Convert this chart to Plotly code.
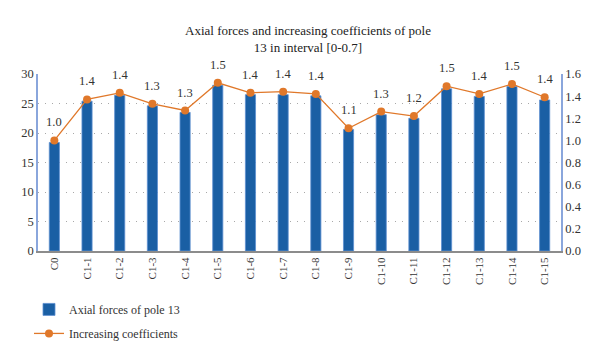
import plotly.graph_objects as go

categories = ["C0", "C1-1", "C1-2", "C1-3", "C1-4", "C1-5", "C1-6", "C1-7", "C1-8",
              "C1-9", "C1-10", "C1-11", "C1-12", "C1-13", "C1-14", "C1-15"]
axial_forces = [18.4, 25.4, 26.4, 24.6, 23.5, 28.1, 26.5, 26.5, 26.3,
                20.6, 23.1, 22.5, 27.5, 26.2, 27.9, 25.6]
coefficients = [1.00, 1.37, 1.43, 1.33, 1.27, 1.52, 1.43, 1.44, 1.42,
                1.11, 1.26, 1.22, 1.49, 1.42, 1.51, 1.39]
left_ticks = [0, 5, 10, 15, 20, 25, 30]
right_ticks = [0.0, 0.2, 0.4, 0.6, 0.8, 1.0, 1.2, 1.4, 1.6]

FONT = "Liberation Serif"
BAR = "#1a5fa4"
ORANGE = "#e0782a"
TXT = "#333333"

fig = go.Figure()
fig.add_trace(go.Bar(
    x=categories, y=axial_forces, name="Axial forces of pole 13",
    marker=dict(color=BAR, line=dict(color="#5d8fd0", width=0.8)),
    yaxis="y", legendgroup="a",
))
fig.add_trace(go.Scatter(
    x=categories, y=coefficients, name="Increasing coefficients",
    mode="lines+markers", yaxis="y2", cliponaxis=False, legendgroup="b",
    line=dict(color=ORANGE, width=1.3),
    marker=dict(color=ORANGE, size=8),
))

for c, v in zip(categories, coefficients):
    fig.add_annotation(x=c, y=v, xref="x", yref="y2", text=f"{v:.1f}",
                       showarrow=False, yshift=18,
                       font=dict(family=FONT, size=12.5, color=TXT))

fig.update_layout(
    width=600, height=360,
    margin=dict(l=30, r=47, t=66, b=117, autoexpand=False),
    paper_bgcolor="white", plot_bgcolor="white",
    font=dict(family=FONT, size=11, color=TXT),
    title=dict(text="Axial forces and increasing coefficients of pole<br>13 in interval [0-0.7]",
               x=0.5, xref="container", xanchor="center", y=0.926, yanchor="top",
               font=dict(family=FONT, size=13, color="#222222")),
    showlegend=True,
    legend=dict(x=0.035, xref="container", y=0.203, yref="container",
                yanchor="top", xanchor="left",
                orientation="v", font=dict(family=FONT, size=12, color=TXT),
                tracegroupgap=5, itemwidth=30, bgcolor="rgba(0,0,0,0)"),
    bargap=0.69,
    xaxis=dict(type="category", tickangle=-90, showgrid=False,
               range=[-0.5, len(categories) - 0.5],
               showline=True, linecolor="#8c8c8c", linewidth=2,
               ticks="", tickfont=dict(family=FONT, size=11, color=TXT)),
    yaxis=dict(range=[0, 30], tickvals=left_ticks, showgrid=True,
               gridcolor="#a8a8a8", griddash="1px,6px", gridwidth=1,
               showline=True, linecolor="#8aa6dc", linewidth=1.5,
               ticks="", zeroline=False,
               tickfont=dict(family=FONT, size=12.5, color=TXT)),
    yaxis2=dict(range=[0, 1.6], tickvals=right_ticks, tickformat=".1f",
                overlaying="y", side="right", showgrid=False,
                showline=True, linecolor="#8aa6dc", linewidth=1.5,
                ticks="", zeroline=False,
                tickfont=dict(family=FONT, size=12.5, color=TXT)),
)

fig.write_html("out.html")
